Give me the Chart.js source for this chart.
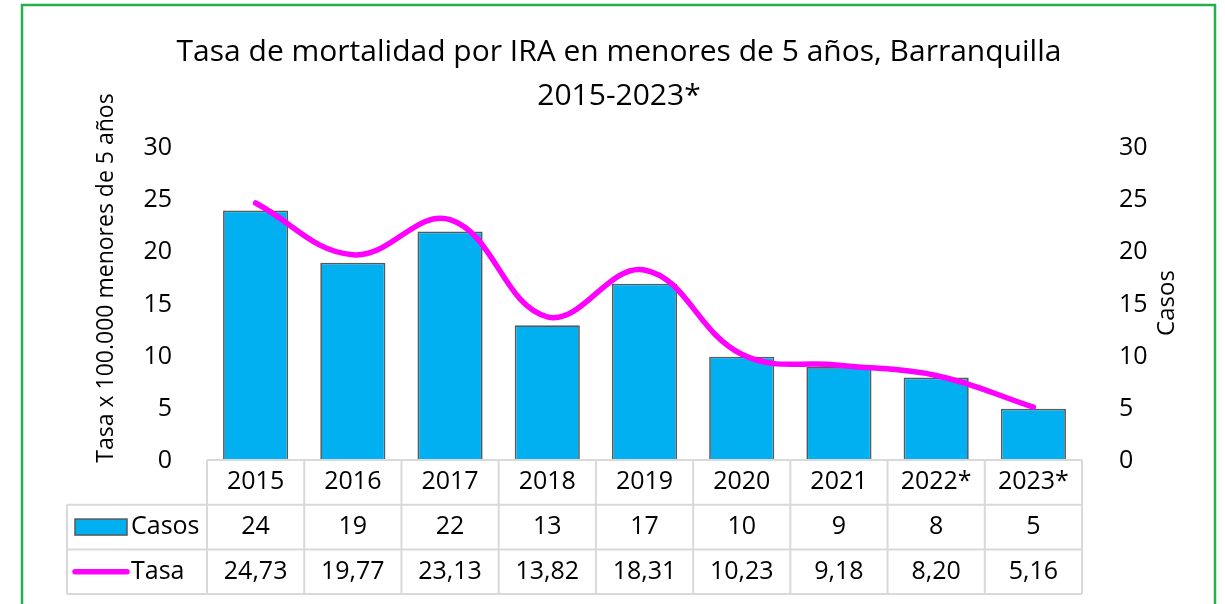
<!DOCTYPE html>
<html>
<head>
<meta charset="utf-8">
<script src="https://cdn.jsdelivr.net/npm/chart.js@4.4.1/dist/chart.umd.min.js"></script>
<style>
html,body{margin:0;padding:0;background:#fff;}
canvas{display:block;}
</style>
</head>
<body>
<canvas id="c" width="1225" height="604"></canvas>
<script>
const categories = ['2015','2016','2017','2018','2019','2020','2021','2022*','2023*'];
const casos = [24, 19, 22, 13, 17, 10, 9, 8, 5];
const tasa = [24.73, 19.77, 23.13, 13.82, 18.31, 10.23, 9.18, 8.20, 5.16];
const tasaLabels = ['24,73','19,77','23,13','13,82','18,31','10,23','9,18','8,20','5,16'];
const titleLines = ['Tasa de mortalidad por IRA en menores de 5 años, Barranquilla', '2015-2023*'];
const leftTitle = 'Tasa x 100.000 menores de 5 años';
const rightTitle = 'Casos';
const seriesNames = ['Casos', 'Tasa'];

const FONT = "'Open Sans', sans-serif";
Chart.defaults.font.family = FONT;
Chart.defaults.color = '#000';

const BLUE = '#00B0F0';
const BAR_BORDER = '#595959';
const MAGENTA = '#FF00FF';
const GRID = '#D9D9D9';

const decor = {
  id: 'decor',
  afterDraw(chart) {
    const ctx = chart.ctx;
    const ca = chart.chartArea;
    const xs = chart.scales.x;
    ctx.save();
    // outer green border
    ctx.strokeStyle = '#22B14C';
    ctx.lineWidth = 2.5;
    ctx.strokeRect(22, 5, 1193, 700);

    // title
    ctx.fillStyle = '#000';
    ctx.textAlign = 'center';
    ctx.textBaseline = 'alphabetic';
    let fs = 28;
    ctx.font = fs + 'px ' + FONT;
    const w = ctx.measureText(titleLines[0]).width;
    fs = Math.min(30, fs * 894 / w);
    ctx.font = fs + 'px ' + FONT;
    ctx.fillText(titleLines[0], 619, 61);
    ctx.fillText(titleLines[1], 619, 105);

    // axis titles
    ctx.font = '23px ' + FONT;
    ctx.textBaseline = 'middle';
    ctx.save();
    ctx.translate(106, 278);
    ctx.rotate(-Math.PI / 2);
    ctx.fillText(leftTitle, 0, 0);
    ctx.restore();
    ctx.font = '24px ' + FONT;
    ctx.save();
    ctx.translate(1167, 303);
    ctx.rotate(-Math.PI / 2);
    ctx.fillText(rightTitle, 0, 0);
    ctx.restore();

    // data table
    const n = categories.length;
    const colW = (ca.right - ca.left) / n;
    const top = ca.bottom - 1;
    const rowH = 44.7;
    const legendLeft = 67;
    const right = ca.left + colW * n;
    ctx.strokeStyle = GRID;
    ctx.lineWidth = 2;
    ctx.beginPath();
    ctx.moveTo(ca.left, top); ctx.lineTo(right, top);
    for (let r = 1; r <= 3; r++) {
      ctx.moveTo(legendLeft, top + r * rowH); ctx.lineTo(right, top + r * rowH);
    }
    for (let i = 0; i <= n; i++) {
      const x = ca.left + i * colW;
      ctx.moveTo(x, top); ctx.lineTo(x, top + 3 * rowH);
    }
    ctx.moveTo(legendLeft, top + rowH); ctx.lineTo(legendLeft, top + 3 * rowH);
    ctx.stroke();

    ctx.fillStyle = '#000';
    ctx.font = '25px ' + FONT;
    ctx.textAlign = 'center';
    ctx.textBaseline = 'middle';
    for (let i = 0; i < n; i++) {
      const cx = xs.getPixelForValue(i);
      ctx.fillText(categories[i], cx, top + rowH * 0.5);
      ctx.fillText(String(casos[i]), cx, top + rowH * 1.5);
      ctx.fillText(tasaLabels[i], cx, top + rowH * 2.5);
    }
    // legend keys
    const y2 = top + rowH * 1.5;
    const y3 = top + rowH * 2.5;
    ctx.fillStyle = BLUE;
    ctx.fillRect(75, y2 - 8, 52, 16);
    ctx.strokeStyle = BAR_BORDER;
    ctx.lineWidth = 1.5;
    ctx.strokeRect(75, y2 - 8, 52, 16);
    ctx.strokeStyle = MAGENTA;
    ctx.lineWidth = 5.5;
    ctx.lineCap = 'round';
    ctx.beginPath();
    ctx.moveTo(75, y3); ctx.lineTo(127, y3);
    ctx.stroke();
    ctx.fillStyle = '#000';
    ctx.textAlign = 'left';
    ctx.fillText(seriesNames[0], 131, y2);
    ctx.fillText(seriesNames[1], 131, y3);
    ctx.restore();
  }
};

const tickFont = { size: 25, family: FONT };

new Chart(document.getElementById('c'), {
  type: 'bar',
  data: {
    labels: categories,
    datasets: [
      {
        type: 'line',
        label: seriesNames[1],
        data: tasa,
        yAxisID: 'y',
        borderColor: MAGENTA,
        backgroundColor: MAGENTA,
        borderWidth: 5.5,
        borderCapStyle: 'round',
        tension: 0.4,
        pointRadius: 0,
        order: 0
      },
      {
        type: 'bar',
        label: seriesNames[0],
        data: casos,
        yAxisID: 'y1',
        backgroundColor: BLUE,
        borderColor: BAR_BORDER,
        borderWidth: 1.7,
        categoryPercentage: 1,
        barPercentage: 0.67,
        order: 1
      }
    ]
  },
  options: {
    responsive: false,
    animation: false,
    layout: { padding: { top: 148, left: 0, right: 0, bottom: 0 } },
    plugins: { legend: { display: false }, title: { display: false }, tooltip: { enabled: false } },
    scales: {
      x: {
        ticks: { display: false },
        grid: { display: false },
        border: { display: false },
        afterFit(s) { s.height = 143; }
      },
      y: {
        position: 'left',
        min: 0, max: 30,
        ticks: { stepSize: 5, font: tickFont, color: '#000', padding: 27 },
        grid: { display: false },
        border: { display: false },
        afterFit(s) { s.width = 207; }
      },
      y1: {
        position: 'right',
        min: 0, max: 30,
        ticks: { stepSize: 5, font: tickFont, color: '#000', padding: 29 },
        grid: { display: false },
        border: { display: false },
        afterFit(s) { s.width = 143; }
      }
    }
  },
  plugins: [decor]
});
</script>
</body>
</html>
